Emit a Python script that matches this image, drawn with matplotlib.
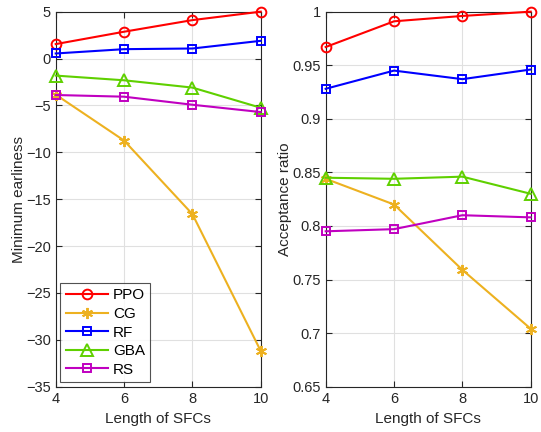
import matplotlib
matplotlib.use("Agg")
import matplotlib.pyplot as plt

plt.rcParams['font.family'] = ['Liberation Sans', 'DejaVu Sans']

lengths = [4, 6, 8, 10]

# Minimum earliness per method
earl_ppo = [1.54, 2.86, 4.10, 5.00]
earl_cg = [-3.85, -8.75, -16.6, -31.2]
earl_rf = [0.54, 1.00, 1.07, 1.89]
earl_gba = [-1.82, -2.32, -3.10, -5.25]
earl_rs = [-3.89, -4.07, -4.93, -5.71]

# Acceptance ratio per method
acc_ppo = [0.967, 0.991, 0.996, 1.000]
acc_cg = [0.844, 0.820, 0.759, 0.704]
acc_rf = [0.928, 0.945, 0.937, 0.946]
acc_gba = [0.845, 0.844, 0.846, 0.830]
acc_rs = [0.795, 0.797, 0.810, 0.808]

methods = ['PPO', 'CG', 'RF', 'GBA', 'RS']
colors = ['#FF0000', '#EDB120', '#0000FF', '#5FD000', '#C000C0']
markers = ['o', (6, 2, 0), 's', '^', 's']
msizes = [7, 8, 6, 8, 6]

fig = plt.figure(figsize=(5.41, 4.32), dpi=100)
ax1 = fig.add_axes([0.103, 0.105, 0.379, 0.868])
ax2 = fig.add_axes([0.602, 0.105, 0.379, 0.868])


def draw(ax, series):
    for name, ys, c, m, ms in zip(methods, series, colors, markers, msizes):
        ax.plot(lengths, ys, color=c, marker=m, markersize=ms, linewidth=1.5,
                markerfacecolor='none', markeredgecolor=c, markeredgewidth=1.4,
                label=name, clip_on=False, zorder=3)
    ax.set_xlim(4, 10)
    ax.set_xticks(lengths)
    ax.grid(True, color='#E0E0E0', linewidth=0.8)
    ax.set_axisbelow(True)
    ax.tick_params(direction='in', top=True, right=True, labelsize=10.5,
                   colors='#262626', length=4)
    for s in ax.spines.values():
        s.set_color('#262626')
        s.set_linewidth(0.8)
    ax.set_xlabel('Length of SFCs', fontsize=11, color='#262626', labelpad=5)


draw(ax1, [earl_ppo, earl_cg, earl_rf, earl_gba, earl_rs])
ax1.set_ylim(-35, 5)
ax1.set_yticks(range(-35, 6, 5))
ax1.set_ylabel('Minimum earliness', fontsize=11, color='#262626', labelpad=0)
leg = ax1.legend(loc='lower left', fontsize=11, frameon=True, fancybox=False,
                 edgecolor='#262626', borderaxespad=0.3, handlelength=2.8,
                 labelspacing=0.3, borderpad=0.35, handletextpad=0.3)
leg.get_frame().set_linewidth(0.8)

draw(ax2, [acc_ppo, acc_cg, acc_rf, acc_gba, acc_rs])
ax2.set_ylim(0.65, 1.0)
ax2.set_yticks([0.65, 0.7, 0.75, 0.8, 0.85, 0.9, 0.95, 1.0])
ax2.set_yticklabels(['0.65', '0.7', '0.75', '0.8', '0.85', '0.9', '0.95', '1'])
ax2.set_ylabel('Acceptance ratio', fontsize=11, color='#262626', labelpad=0)

fig.savefig('out.png', dpi=100)
